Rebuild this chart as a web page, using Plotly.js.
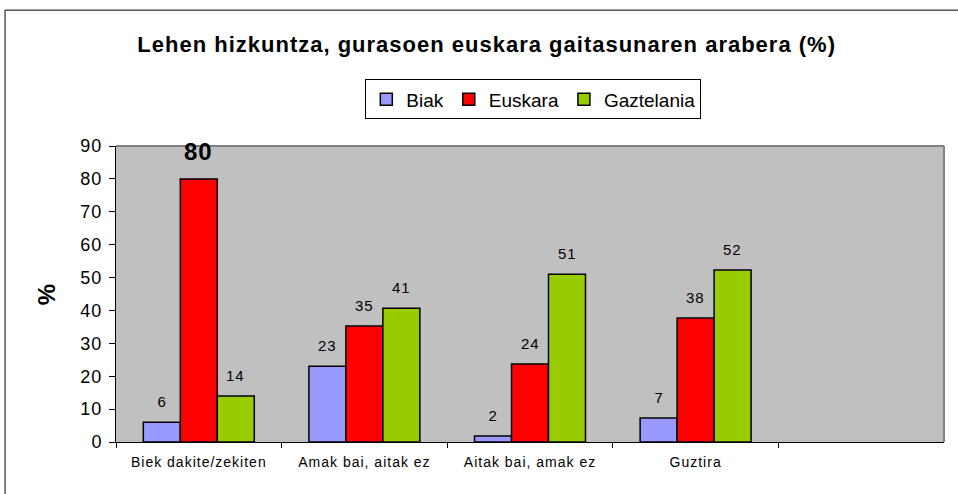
<!DOCTYPE html>
<html>
<head>
<meta charset="utf-8">
<script src="https://cdn.plot.ly/plotly-3.0.1.min.js"></script>
<style>
html,body{margin:0;padding:0;background:#fff;}
#chart{width:958px;height:494px;}
#chart svg text{letter-spacing:1px;}
#chart svg .legend text{letter-spacing:0;}
</style>
</head>
<body>
<div id="chart"></div>
<script>
const categories = ["Biek dakite/zekiten", "Amak bai, aitak ez", "Aitak bai, amak ez", "Guztira"];
const seriesNames = ["Biak", "Euskara", "Gaztelania"];
const biak = [6, 23, 1.8, 7.3];
const euskara = [80, 35.3, 23.7, 37.7];
const gaztelania = [14, 40.7, 51, 52.3];
const colors = ["#9999FF", "#FF0000", "#99CC00"];
const yTicks = [0, 10, 20, 30, 40, 50, 60, 70, 80, 90];

const allSeries = [biak, euskara, gaztelania];
const traces = allSeries.map((vals, i) => ({
  type: "bar",
  name: seriesNames[i],
  x: categories,
  y: vals,
  marker: {color: colors[i], line: {color: "#000", width: 1.5}},
  hoverinfo: "none"
}));

const shifts = [-37, 0, 37];
const maxVal = Math.max(...allSeries.flat());
const annotations = [];
allSeries.forEach((vals, i) => {
  vals.forEach((v, j) => {
    const big = (v === maxVal);
    annotations.push({
      x: categories[j], y: v, xref: "x", yref: "y",
      text: big ? "<b>" + Math.round(v) + "</b>" : String(Math.round(v)),
      showarrow: false, yanchor: "bottom", xshift: shifts[i],
      yshift: big ? 12 : 10,
      font: {family: "Liberation Sans, Arial, sans-serif", size: big ? 24 : 15, color: "#000"}
    });
  });
});

const layout = {
  width: 958, height: 494,
  margin: {l: 116, r: 14, t: 146, b: 52},
  paper_bgcolor: "#fff",
  plot_bgcolor: "#C0C0C0",
  barmode: "group",
  bargap: 0.33,
  bargroupgap: 0,
  font: {family: "Liberation Sans, Arial, sans-serif", color: "#000"},
  title: {
    text: "<b>Lehen hizkuntza, gurasoen euskara gaitasunaren arabera (%)</b>",
    font: {size: 22, color: "#000"},
    x: 0.508, xanchor: "center", y: 0.91, yanchor: "middle"
  },
  legend: {
    orientation: "h", x: 0.504, xanchor: "center", y: 1.225, yanchor: "top",
    bordercolor: "#000", borderwidth: 1, bgcolor: "#fff",
    font: {size: 19}, traceorder: "normal", itemwidth: 30
  },
  xaxis: {
    type: "category",
    range: [-0.5, 4.5],
    tickson: "boundaries",
    ticks: "outside", ticklen: 5, tickcolor: "#000",
    showline: true, linecolor: "#000", linewidth: 1,
    showgrid: false, zeroline: false,
    tickfont: {size: 14},
    ticklabelstandoff: 7,
    fixedrange: true
  },
  yaxis: {
    range: [0, 90],
    tickvals: yTicks,
    ticks: "outside", ticklen: 6, tickcolor: "#000",
    showline: true, linecolor: "#000", linewidth: 1,
    showgrid: false, zeroline: false,
    tickfont: {size: 18},
    ticklabelstandoff: 3,
    title: {text: "<b>%</b>", font: {size: 24}, standoff: 19},
    fixedrange: true
  },
  annotations: annotations,
  shapes: [
    {type: "line", xref: "paper", yref: "paper", x0: 0, x1: 1, y0: 1, y1: 1, line: {color: "#808080", width: 2}},
    {type: "line", xref: "paper", yref: "paper", x0: 1, x1: 1, y0: 0, y1: 1, line: {color: "#808080", width: 2}},
    {type: "rect", xref: "paper", yref: "paper", x0: -0.134, x1: 1.02, y0: -0.25, y1: 1.459, line: {color: "#000", width: 1}, layer: "below"}
  ],
  showlegend: true
};

Plotly.newPlot("chart", traces, layout, {displayModeBar: false, staticPlot: true});
</script>
</body>
</html>
